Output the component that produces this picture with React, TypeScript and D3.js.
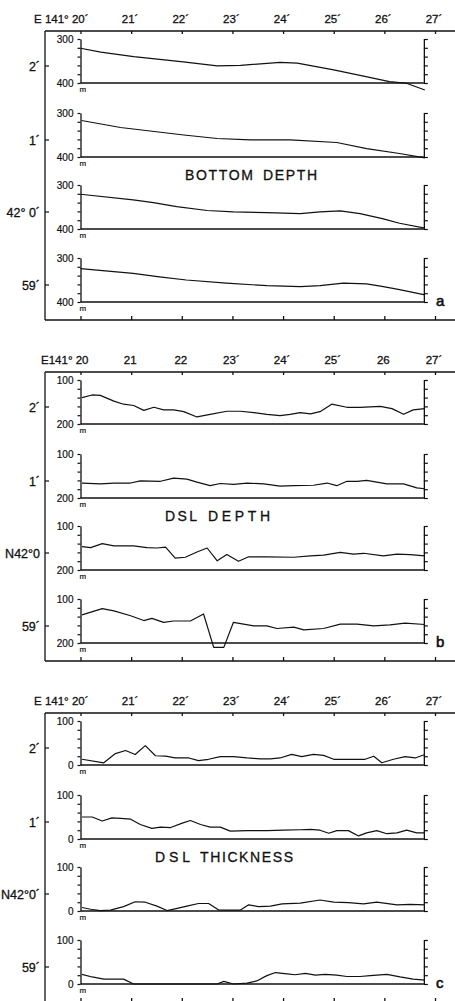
import React, { useEffect, useRef } from 'react';
import * as d3 from 'd3';

type Pt = [number, number];

// longitude minutes east of 141°
const minuteTicks = [20, 21, 22, 23, 24, 25, 26, 27];
const lonLabelsA = ['E 141° 20´', '21´', '22´', '23´', '24´', '25´', '26´', '27´'];
const lonLabelsB = ['E141° 20', '21', '22', '23´', '24´', '25´', '26', '27´'];
const lonLabelsC = ['E 141° 20´', '21´', '22´', '23´', '24´', '25´', '26´', '27´'];

const latLabelsA = ['2´', '1´', '42° 0´', '59´'];
const latLabelsB = ['2´', '1´', 'N42°0', '59´'];
const latLabelsC = ['2´', '1´', 'N42°0´', '59´'];

// a: bottom depth (m)
const bottom2: Pt[] = [[20.0, 321], [20.4, 330], [21.05, 340], [22.03, 352], [22.7, 361], [23.16, 360], [23.94, 353], [24.28, 355], [25.0, 370], [25.66, 386], [26.1, 397], [26.45, 401], [26.8, 416]];
const bottom1: Pt[] = [[20.02, 317], [20.79, 333], [22.04, 350], [22.7, 358], [23.35, 361], [24.14, 361], [25.06, 367], [25.65, 381], [26.3, 392], [26.8, 402]];
const bottom0: Pt[] = [[20.0, 321], [21.04, 334], [21.44, 340], [21.9, 349], [22.5, 358], [23.02, 361], [23.68, 363], [24.34, 365], [24.73, 361], [25.13, 359], [25.52, 365], [25.98, 377], [26.3, 387], [26.8, 398]];
const bottom59: Pt[] = [[20.0, 324], [21.04, 335], [21.56, 343], [22.09, 350], [22.88, 357], [23.68, 363], [24.34, 365], [24.73, 363], [25.19, 357], [25.65, 359], [25.98, 365], [26.3, 372], [26.8, 384]];

// b: DSL depth (m)
const dsl2: Pt[] = [[20.03, 140], [20.23, 134], [20.39, 135], [20.66, 148], [20.85, 155], [21.05, 158], [21.25, 169], [21.45, 162], [21.64, 168], [21.84, 168], [22.04, 172], [22.3, 184], [22.56, 178], [22.89, 171], [23.16, 171], [23.42, 174], [23.68, 178], [23.94, 181], [24.14, 178], [24.34, 174], [24.54, 177], [24.73, 172], [24.96, 155], [25.26, 162], [25.52, 162], [25.92, 160], [26.15, 165], [26.38, 178], [26.57, 168], [26.8, 165]];
const dsl1: Pt[] = [[20.03, 166], [20.39, 168], [20.66, 166], [20.99, 166], [21.18, 161], [21.58, 162], [21.84, 155], [22.1, 157], [22.3, 164], [22.56, 172], [22.76, 167], [23.02, 169], [23.29, 166], [23.62, 168], [23.94, 173], [24.21, 172], [24.6, 171], [24.87, 166], [25.06, 172], [25.26, 162], [25.46, 162], [25.65, 160], [26.05, 168], [26.38, 168], [26.64, 177], [26.8, 179]];
const dsl0: Pt[] = [[20.03, 147], [20.2, 149], [20.43, 140], [20.66, 145], [21.05, 145], [21.31, 149], [21.51, 150], [21.68, 148], [21.87, 173], [22.07, 171], [22.3, 159], [22.5, 150], [22.7, 179], [22.89, 165], [23.12, 180], [23.32, 170], [23.68, 170], [24.21, 171], [24.54, 168], [24.8, 166], [25.13, 160], [25.39, 164], [25.59, 162], [25.98, 168], [26.25, 164], [26.51, 165], [26.8, 168]];
const dsl59: Pt[] = [[20.03, 136], [20.43, 122], [20.66, 127], [20.99, 138], [21.25, 149], [21.41, 144], [21.64, 153], [21.84, 150], [22.17, 150], [22.43, 134], [22.63, 210], [22.83, 210], [23.02, 153], [23.42, 161], [23.68, 161], [23.88, 167], [24.21, 164], [24.41, 170], [24.8, 167], [25.13, 157], [25.46, 157], [25.79, 161], [26.11, 159], [26.41, 155], [26.8, 158]];

// c: DSL thickness (m)
const thick2: Pt[] = [[20.03, 13], [20.46, 5], [20.69, 26], [20.89, 33], [21.08, 24], [21.28, 44], [21.48, 21], [21.68, 20], [21.87, 16], [22.14, 16], [22.33, 10], [22.53, 13], [22.76, 19], [23.02, 19], [23.29, 16], [23.55, 14], [23.75, 14], [23.94, 16], [24.17, 24], [24.37, 19], [24.6, 24], [24.8, 22], [25.0, 13], [25.26, 13], [25.62, 13], [25.79, 20], [25.95, 5], [26.18, 13], [26.41, 19], [26.61, 16], [26.8, 24]];
const thick1: Pt[] = [[20.03, 50], [20.23, 50], [20.43, 41], [20.62, 48], [20.79, 47], [20.99, 45], [21.18, 33], [21.41, 24], [21.58, 27], [21.78, 26], [22.01, 36], [22.17, 42], [22.37, 33], [22.56, 27], [22.76, 27], [22.96, 18], [23.29, 19], [23.68, 19], [24.01, 20], [24.34, 21], [24.54, 22], [24.73, 20], [24.9, 13], [25.06, 19], [25.29, 19], [25.49, 7], [25.65, 14], [25.85, 19], [26.05, 12], [26.25, 14], [26.44, 20], [26.64, 14], [26.8, 14]];
const thick0: Pt[] = [[20.03, 8], [20.2, 4], [20.39, 1], [20.59, 2], [20.85, 10], [21.08, 21], [21.28, 20], [21.51, 11], [21.71, 1], [21.91, 6], [22.1, 11], [22.33, 17], [22.53, 17], [22.73, 2], [22.93, 2], [23.16, 2], [23.32, 14], [23.52, 10], [23.75, 11], [23.98, 16], [24.34, 18], [24.73, 25], [25.0, 20], [25.29, 19], [25.59, 16], [25.85, 20], [26.25, 14], [26.51, 15], [26.8, 14]];
const thick59: Pt[] = [[20.03, 22], [20.23, 16], [20.46, 11], [20.66, 11], [20.85, 11], [21.05, 0], [21.38, 0], [22.37, 0], [22.7, 0], [22.83, 6], [23.02, 0], [23.29, 2], [23.48, 7], [23.68, 19], [23.85, 26], [24.08, 23], [24.24, 21], [24.44, 24], [24.64, 20], [24.83, 22], [25.06, 20], [25.26, 17], [25.52, 17], [25.72, 19], [26.05, 22], [26.31, 16], [26.57, 11], [26.8, 9]];

const panels = [
  {
    letter: 'a', lonLabels: lonLabelsA, latLabels: latLabelsA, yTop: 300, yBottom: 400,
    series: [bottom2, bottom1, bottom0, bottom59],
    title: [{ t: 'BOTTOM', x: 185, len: 68 }, { t: 'DEPTH', x: 263, len: 54 }],
  },
  {
    letter: 'b', lonLabels: lonLabelsB, latLabels: latLabelsB, yTop: 100, yBottom: 200,
    series: [dsl2, dsl1, dsl0, dsl59],
    title: [{ t: 'DSL', x: 165, len: 32 }, { t: 'DEPTH', x: 208, len: 62 }],
  },
  {
    letter: 'c', lonLabels: lonLabelsC, latLabels: latLabelsC, yTop: 100, yBottom: 0,
    series: [thick2, thick1, thick0, thick59],
    title: [{ t: 'DSL', x: 155, len: 35 }, { t: 'THICKNESS', x: 200, len: 93 }],
  },
];

const W = 455;
const H = 1001;
const INK = '#111';
const FONT = '"Liberation Sans", Arial, sans-serif';

const App = () => {
  const svgRef = useRef<SVGSVGElement>(null);

  useEffect(() => {
    const svg = d3.select(svgRef.current);
    svg.selectAll('*').remove();

    const x = d3.scaleLinear().domain([20, 27]).range([80.5, 435]);
    const borderX = 45;
    const rightX = x(26.78);
    const subOffsets = [8, 82, 154, 227];
    const subH = 44;

    // slight stroke on text to mimic the heavy printed lettering
    const ink = (sel: any, size: number, sw = 0.3) =>
      sel.style('font-family', FONT).style('font-size', `${size}px`)
        .attr('fill', INK).attr('stroke', INK).attr('stroke-width', sw);

    panels.forEach((p, i) => {
      const top = 31 + i * 341;
      const bottom = top + 289;
      const g = svg.append('g');

      // frame: top line, bottom line, left border
      g.append('line').attr('x1', borderX).attr('x2', W).attr('y1', top).attr('y2', top)
        .attr('stroke', INK).attr('stroke-width', 1.3);
      g.append('line').attr('x1', borderX).attr('x2', W).attr('y1', bottom).attr('y2', bottom)
        .attr('stroke', INK).attr('stroke-width', 1.3);
      g.append('line').attr('x1', borderX).attr('x2', borderX).attr('y1', top).attr('y2', bottom)
        .attr('stroke', INK).attr('stroke-width', 1.3);

      const topAxis = g.append('g').attr('transform', `translate(0,${top})`)
        .call(d3.axisBottom(x).tickValues(minuteTicks).tickSize(3).tickFormat(() => ''));
      topAxis.select('.domain').remove();
      const botAxis = g.append('g').attr('transform', `translate(0,${bottom})`)
        .call(d3.axisTop(x).tickValues(minuteTicks).tickSize(4).tickFormat(() => ''));
      botAxis.select('.domain').remove();
      g.selectAll('.tick line').attr('stroke', INK).attr('stroke-width', 1.3);

      // longitude labels
      ink(g.selectAll('text.lon')
        .data(minuteTicks)
        .join('text')
        .attr('class', 'lon')
        .attr('x', (d, k) => (k === 0 ? x(d) + 8 : x(d) - 1))
        .attr('y', top - 8)
        .attr('text-anchor', (d, k) => (k === 0 ? 'end' : 'middle'))
        .text((d, k) => p.lonLabels[k]), 11.5);

      // title words
      p.title.forEach(w => {
        ink(g.append('text')
          .attr('x', w.x).attr('y', top + 149)
          .attr('textLength', w.len).attr('lengthAdjust', 'spacing')
          .text(w.t), 14);
      });

      ink(g.append('text')
        .attr('x', 436).attr('y', top + 275)
        .text(p.letter), 15, 0.6);

      subOffsets.forEach((off, s) => {
        const sTop = top + off;
        const sBot = sTop + subH;
        const y = d3.scaleLinear().domain([p.yTop, p.yBottom]).range([sTop, sBot]);
        const step = (p.yBottom - p.yTop) / 5;
        const yTicks = d3.range(6).map(k => p.yTop + k * step);

        const left = g.append('g').attr('transform', `translate(${x(20)},0)`)
          .call(d3.axisLeft(y).tickValues(yTicks).tickSize(3).tickSizeOuter(0).tickPadding(4)
            .tickFormat((d, k) => (k === 0 || k === 5 ? String(d) : '')));
        left.select('.domain').attr('stroke', INK).attr('stroke-width', 1.3);
        left.selectAll('.tick line').attr('stroke', INK).attr('stroke-width', 1.2);
        ink(left.selectAll('.tick text'), 10, 0.2);

        const right = g.append('g').attr('transform', `translate(${rightX},0)`)
          .call(d3.axisRight(y).tickValues(yTicks).tickSize(4).tickSizeOuter(0).tickFormat(() => ''));
        right.select('.domain').attr('stroke', INK).attr('stroke-width', 1.3);
        right.selectAll('.tick line').attr('stroke', INK).attr('stroke-width', 1.2);

        // zero / base line
        g.append('line').attr('x1', x(20)).attr('x2', rightX).attr('y1', sBot).attr('y2', sBot)
          .attr('stroke', INK).attr('stroke-width', 1.3);

        ink(g.append('text')
          .attr('x', x(20) - 1).attr('y', sBot + 9)
          .text('m'), 8, 0.2);

        // latitude label + tick on the border
        const latY = sTop + 27;
        g.append('line').attr('x1', borderX).attr('x2', borderX + 4).attr('y1', latY).attr('y2', latY)
          .attr('stroke', INK).attr('stroke-width', 1.2);
        ink(g.append('text')
          .attr('x', 40).attr('y', latY + 4.5)
          .attr('text-anchor', 'end')
          .text(p.latLabels[s]), 12.5);

        const line = d3.line<Pt>().x(d => x(d[0])).y(d => y(d[1]));
        g.append('path')
          .datum(p.series[s])
          .attr('d', line)
          .attr('fill', 'none')
          .attr('stroke', INK)
          .attr('stroke-width', 1.2)
          .attr('stroke-linejoin', 'round');
      });
    });
  }, []);

  return (
    <svg
      ref={svgRef}
      width={W}
      height={H}
      style={{ position: 'absolute', left: 0, top: 0, background: '#fff' }}
    />
  );
};

export default App;
